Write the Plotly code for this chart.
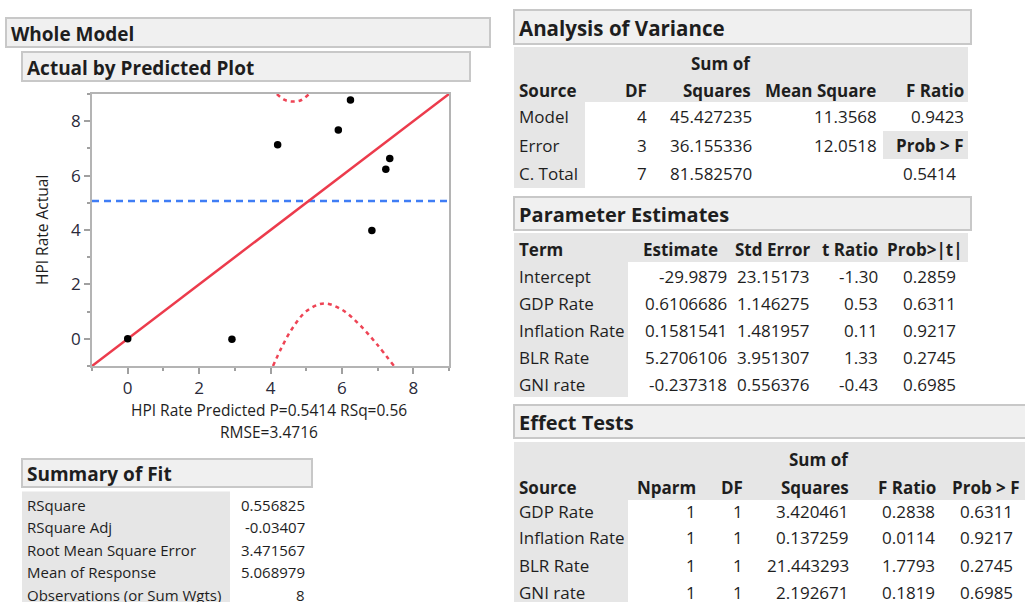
import plotly.graph_objects as go

W, H = 1025, 602
FONT = "Open Sans"
TXT = "#1e1e1e"

# ---------------- chart data ----------------
predicted = [0.0, 2.92, 4.20, 5.90, 6.24, 7.34, 7.23, 6.84]
actual = [0.0, -0.02, 7.13, 7.68, 8.78, 6.63, 6.23, 3.98]
mean_response = 5.068979
fit_x = [-1, 9]
fit_y = [-1, 9]
lower_ci_x = [4.07, 4.3, 4.6, 5.0, 5.5, 6.0, 6.5, 7.0, 7.46]
lower_ci_y = [-1.0, -0.35, 0.36, 1.01, 1.30, 1.07, 0.51, -0.23, -1.0]
upper_ci_x = [4.18, 4.4, 4.64, 4.85, 5.08]
upper_ci_y = [9.0, 8.78, 8.72, 8.77, 9.0]
x_ticks = [0, 2, 4, 6, 8]
y_ticks = [0, 2, 4, 6, 8]

# ---------------- table data ----------------
fit_labels = ["RSquare", "RSquare Adj", "Root Mean Square Error", "Mean of Response",
              "Observations (or Sum Wgts)"]
fit_values = ["0.556825", "-0.03407", "3.471567", "5.068979", "8"]

anova_source = ["Model", "Error", "C. Total"]
anova_df = ["4", "3", "7"]
anova_ss = ["45.427235", "36.155336", "81.582570"]
anova_ms = ["11.3568", "12.0518", ""]
anova_f = "0.9423"
anova_prob = "0.5414"

pe_terms = ["Intercept", "GDP Rate", "Inflation Rate", "BLR Rate", "GNI rate"]
pe_est = ["-29.9879", "0.6106686", "0.1581541", "5.2706106", "-0.237318"]
pe_se = ["23.15173", "1.146275", "1.481957", "3.951307", "0.556376"]
pe_t = ["-1.30", "0.53", "0.11", "1.33", "-0.43"]
pe_p = ["0.2859", "0.6311", "0.9217", "0.2745", "0.6985"]

et_source = ["GDP Rate", "Inflation Rate", "BLR Rate", "GNI rate"]
et_nparm = ["1", "1", "1", "1"]
et_df = ["1", "1", "1", "1"]
et_ss = ["3.420461", "0.137259", "21.443293", "2.192671"]
et_f = ["0.2838", "0.0114", "1.7793", "0.1819"]
et_p = ["0.6311", "0.9217", "0.2745", "0.6985"]

# ---------------- helpers ----------------
shapes = []
annotations = []


def px(x):
    return x / W


def py(y):
    return 1 - y / H


def rect(x0, y0, x1, y1, fill, line=None, lw=0):
    shapes.append(dict(type="rect", xref="paper", yref="paper", layer="below",
                       x0=px(x0), x1=px(x1), y0=py(y1), y1=py(y0),
                       fillcolor=fill,
                       line=dict(color=line or fill, width=lw)))


def text(t, x, y, anchor="left", size=17, bold=False, color=TXT):
    if bold:
        t = "<b>" + t + "</b>"
    annotations.append(dict(text=t, x=px(x), y=py(y), xref="paper", yref="paper",
                            xanchor=anchor, yanchor="middle", showarrow=False,
                            borderpad=0, font=dict(family=FONT, size=size, color=color)))


HDR_FILL = "#f0f0f0"
HDR_LINE = "#c8c8c8"
CELL = "#e6e6e6"


def header(t, x0, y0, x1, y1, size=20):
    rect(x0, y0, x1, y1, HDR_FILL, HDR_LINE, 2)
    text(t, x0 + 4, (y0 + y1) / 2 + 1, size=size, bold=True)


# ---------------- left panel ----------------
header("Whole Model", 6, 18, 490, 47, size=19)
header("Actual by Predicted Plot", 22, 52, 470, 81, size=19)

header("Summary of Fit", 22, 459, 312, 487, size=19)
rect(22, 491.5, 230, 602, CELL)
fit_rows_y = [504.5, 527, 549.5, 572, 594.5]
for lab, val, yy in zip(fit_labels, fit_values, fit_rows_y):
    text(lab, 26, yy, size=15)
    text(val, 306, yy, anchor="right", size=15)

# ---------------- ANOVA ----------------
header("Analysis of Variance", 514, 10, 971, 44, size=20.5)
rect(514, 47, 968, 102, CELL)
rect(514, 102, 585, 188, CELL)
rect(883, 131, 968, 159, CELL)
text("Sum of", 752, 63.5, anchor="right", bold=True)
hy = 90.5
text("Source", 518, hy, bold=True)
text("DF", 648, hy, anchor="right", bold=True)
text("Squares", 752, hy, anchor="right", bold=True)
text("Mean Square", 877, hy, anchor="right", bold=True)
text("F Ratio", 965, hy, anchor="right", bold=True)
anova_y = [116.5, 145.5, 173.5]
for i, yy in enumerate(anova_y):
    text(anova_source[i], 518, yy)
    text(anova_df[i], 648, yy, anchor="right")
    text(anova_ss[i], 753, yy, anchor="right")
    if anova_ms[i]:
        text(anova_ms[i], 878, yy, anchor="right")
text(anova_f, 965, anova_y[0], anchor="right")
text("Prob &gt; F", 965, anova_y[1], anchor="right", bold=True)
text(anova_prob, 957, anova_y[2], anchor="right")

# ---------------- Parameter Estimates ----------------
header("Parameter Estimates", 514, 197, 971, 230, size=20)
rect(514, 233, 968, 262, CELL)
rect(514, 262, 628, 397, CELL)
hy = 249.5
text("Term", 518, hy, bold=True)
text("Estimate", 719, hy, anchor="right", bold=True)
text("Std Error", 811, hy, anchor="right", bold=True)
text("t Ratio", 879, hy, anchor="right", bold=True)
text("Prob&gt;|t|", 964, hy, anchor="right", bold=True)
pe_y = [276, 303, 330, 357, 384]
for i, yy in enumerate(pe_y):
    text(pe_terms[i], 518, yy)
    text(pe_est[i], 728, yy, anchor="right")
    text(pe_se[i], 811, yy, anchor="right")
    text(pe_t[i], 879, yy, anchor="right")
    text(pe_p[i], 957, yy, anchor="right")

# ---------------- Effect Tests ----------------
header("Effect Tests", 514, 405, 1040, 438, size=20)
rect(514, 442, 1030, 500, CELL)
rect(514, 500, 628, 602, CELL)
text("Sum of", 850, 459.5, anchor="right", bold=True)
hy = 487
text("Source", 518, hy, bold=True)
text("Nparm", 697, hy, anchor="right", bold=True)
text("DF", 744, hy, anchor="right", bold=True)
text("Squares", 850, hy, anchor="right", bold=True)
text("F Ratio", 937, hy, anchor="right", bold=True)
text("Prob &gt; F", 1021, hy, anchor="right", bold=True)
et_y = [511, 537.5, 565, 592.5]
for i, yy in enumerate(et_y):
    text(et_source[i], 518, yy)
    text(et_nparm[i], 697, yy, anchor="right")
    text(et_df[i], 744, yy, anchor="right")
    text(et_ss[i], 850, yy, anchor="right")
    text(et_f[i], 936, yy, anchor="right")
    text(et_p[i], 1014, yy, anchor="right")

# ---------------- axis titles ----------------
text("HPI Rate Predicted P=0.5414 RSq=0.56", 269, 410, anchor="center", size=15.5)
text("RMSE=3.4716", 269, 431.5, anchor="center", size=15.5)
annotations.append(dict(text="HPI Rate Actual", x=px(42), y=py(230), xref="paper", yref="paper",
                        xanchor="center", yanchor="middle", textangle=-90, showarrow=False,
                        font=dict(family=FONT, size=15.5, color=TXT)))

# ---------------- traces ----------------
fig = go.Figure()
fig.add_trace(go.Scatter(x=[fit_x[0], fit_x[1]], y=[mean_response, mean_response], mode="lines",
                         line=dict(color="#3f7df5", width=2.5, dash="7px,5px"),
                         hoverinfo="skip", showlegend=False))
fig.add_trace(go.Scatter(x=lower_ci_x, y=lower_ci_y, mode="lines", line_shape="spline",
                         line=dict(color="#ee4455", width=2.5, dash="4px,4px"),
                         showlegend=False))
fig.add_trace(go.Scatter(x=upper_ci_x, y=upper_ci_y, mode="lines", line_shape="spline",
                         line=dict(color="#ee4455", width=2.5, dash="4px,4px"),
                         showlegend=False))
fig.add_trace(go.Scatter(x=fit_x, y=fit_y, mode="lines",
                         line=dict(color="#ec3b4c", width=2.5), showlegend=False))
fig.add_trace(go.Scatter(x=predicted, y=actual, mode="markers",
                         marker=dict(color="black", size=7.5), showlegend=False))

axis_common = dict(showgrid=False, zeroline=False, showline=True, mirror=True,
                   linecolor="#b4b4b4", linewidth=1.5, ticks="outside", ticklen=6,
                   tickwidth=1.5, tickcolor="#a0a0a0",
                   tickfont=dict(family=FONT, size=17, color="#2a2a3a"),
                   minor=dict(ticks="outside", ticklen=3, tickwidth=1.5, tickcolor="#a0a0a0",
                              dtick=1, showgrid=False))

fig.update_layout(
    width=W, height=H,
    margin=dict(l=0, r=0, t=0, b=0),
    paper_bgcolor="white", plot_bgcolor="white",
    xaxis=dict(domain=[px(92), px(449)], range=[-1, 9], tickvals=x_ticks, **axis_common),
    yaxis=dict(domain=[py(366), py(94)], range=[-1, 9], tickvals=y_ticks, **axis_common),
    shapes=shapes,
    annotations=annotations,
    showlegend=False,
)

fig.write_html("out.html", config={"displayModeBar": False},
               post_script="document.body.style.margin='0px';")
